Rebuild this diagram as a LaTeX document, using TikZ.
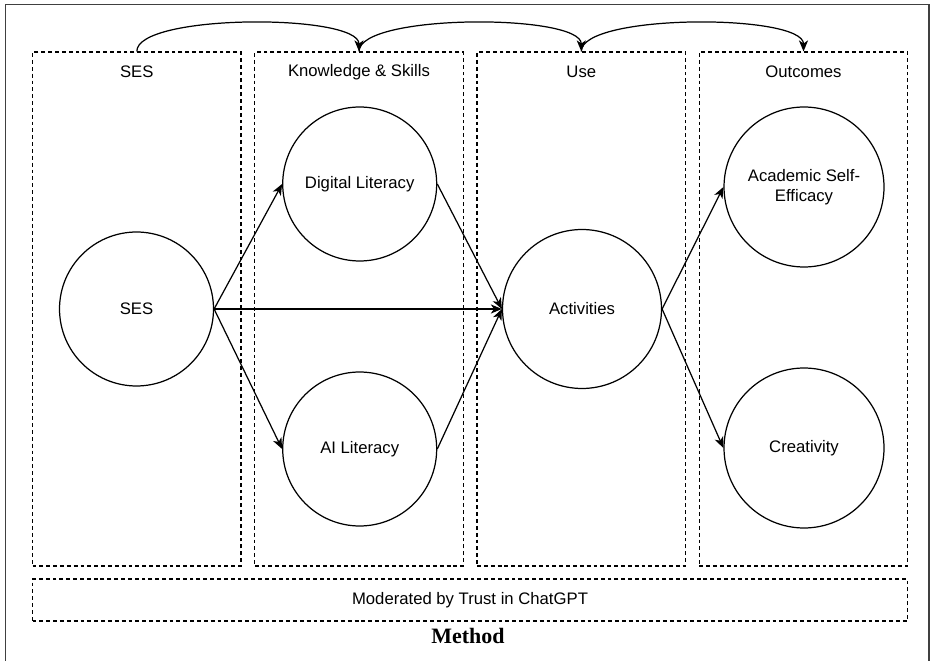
\documentclass[tikz,border=0pt]{standalone}
\usepackage{fontspec}
\setmainfont{Liberation Sans}
\newfontfamily\captionserif{Liberation Serif}
\usetikzlibrary{arrows.meta}

\tikzset{
  construct/.style={draw, circle, line width=0.7pt, align=center, inner sep=0pt,
    font=\fontsize{9.5}{11.5}\selectfont},
  groupbox/.style={draw, dash pattern=on 2.2pt off 1.7pt, line width=0.7pt,
    minimum width=4.17cm, minimum height=10.28cm, font=\fontsize{9.5}{11.5}\selectfont},
  grouptitle/.style={font=\fontsize{9.5}{11.5}\selectfont},
  flow/.style={-{Stealth[length=6.3pt, width=5.2pt, inset=1.8pt]}, line width=0.7pt},
}

\begin{document}
\begin{tikzpicture}[x=0.02cm, y=-0.02cm]
		\useasboundingbox (0,0) rectangle (935,661);
		% frame
		\draw[black!75, line width=0.6pt] (5.5,661) -- (5.5,4.5) -- (929,4.5) -- (929,661);
		% stages
		\node[groupbox] (sesbox) at (136.8,309) {};
		\node[groupbox] (skillbox) at (359,309) {};
		\node[groupbox] (usebox) at (581.3,309) {};
		\node[groupbox] (outbox) at (803.5,309) {};
			\node[grouptitle] (sestitle) at (136.8,72) {SES};
			\node[grouptitle] (skilltitle) at (359,72) {Knowledge \& Skills};
			\node[grouptitle] (usetitle) at (581.3,72) {Use};
			\node[grouptitle] (outtitle) at (803.5,72) {Outcomes};
		\node[groupbox, minimum width=17.5cm, minimum height=0.84cm] (trustbox) at (470,600)
			{Moderated by Trust in ChatGPT};
		\node[font=\captionserif\bfseries\fontsize{12.5}{14}\selectfont] (method) at (468,636) {Method};

		% constructs
		\node[construct, minimum size=3.08cm] (ses) at (136.5,309) {SES};
		\node[construct, minimum size=3.08cm] (digital) at (359.7,184) {Digital Literacy};
		\node[construct, minimum size=3.08cm] (ailit) at (359.7,449) {AI Literacy};
		\node[construct, minimum size=3.18cm] (activities) at (582,309) {Activities};
		\node[construct, minimum size=3.2cm] (efficacy) at (804,187) {Academic Self-\\Efficacy};
		\node[construct, minimum size=3.2cm] (creativity) at (804,448) {Creativity};

		% paths
			\draw[flow] (ses.east) -- (digital.west);
			\draw[flow] (ses.east) -- (ailit.west);
			\draw[flow] (ses.east) -- (activities.west);
			\draw[flow] (digital.east) -- (activities.west);
			\draw[flow] (ailit.east) -- (activities.west);
			\draw[flow] (activities.east) -- (efficacy.west);
			\draw[flow] (activities.east) -- (creativity.west);

		% sequence of stages
			\draw[flow] (sesbox.north) .. controls +(0,-38) and +(0,-38) .. (skillbox.north);
			\draw[flow] (skillbox.north) .. controls +(0,-38) and +(0,-38) .. (usebox.north);
			\draw[flow] (usebox.north) .. controls +(0,-38) and +(0,-38) .. (outbox.north);
	\end{tikzpicture}
\end{document}
